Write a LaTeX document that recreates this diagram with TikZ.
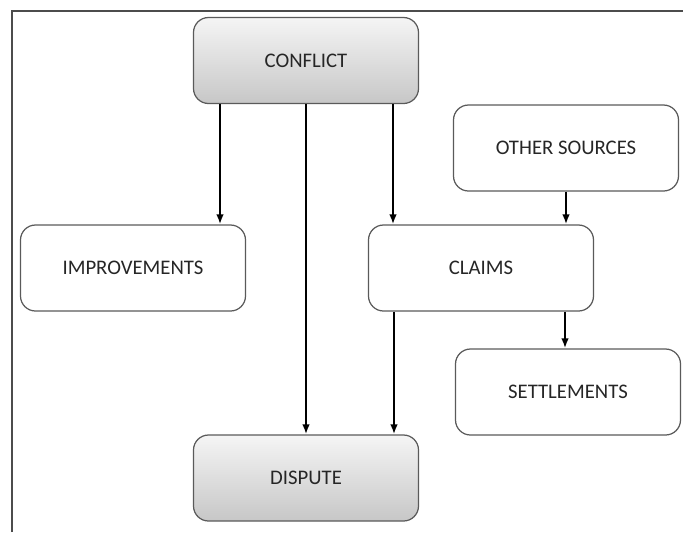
\documentclass[tikz,border=0pt]{standalone}
\usepackage{fontspec}
\setmainfont{Carlito}
\usepackage{xcolor}
\usepackage{tikz}
\usetikzlibrary{positioning, arrows.meta, calc}

\definecolor{boxline}{HTML}{5A5A5A}
\definecolor{boxtext}{HTML}{262626}

\begin{document}
\begin{tikzpicture}[
    roundnode/.style={rectangle, rounded corners=0.3cm, draw=boxline, line width=0.7pt, fill=white, minimum width=4.5cm, minimum height=1.72cm, text=boxtext, font=\fontsize{11.8}{13}\selectfont},
    shadednode/.style={roundnode, top color=black!4, bottom color=black!22},
    arrowline/.style={line width=1.1pt, -{Latex[length=0.2cm, width=0.15cm]}},
]
\useasboundingbox (0,0) rectangle (13.66,-10.64);
\draw[line width=1pt, black!70] (0.24,-10.64) -- (0.24,-0.22) -- (13.66,-0.22);
\node[shadednode](conflict) at (6.12,-1.21){CONFLICT};
\node[roundnode](other) at (11.32,-2.96){OTHER SOURCES};
\node[roundnode](improvements) at (2.66,-5.36){IMPROVEMENTS};
\node[roundnode](claims) at (9.62,-5.36){CLAIMS};
\node[roundnode](settlements) at (11.36,-7.84){SETTLEMENTS};
\node[shadednode](dispute) at (6.12,-9.56){DISPUTE};
\draw[arrowline] ([xshift=-1.72cm]conflict.south) -- ([xshift=-1.72cm]conflict.south |- improvements.north);
\draw[arrowline] (conflict.south) -- (dispute.north);
\draw[arrowline] ([xshift=1.74cm]conflict.south) -- ([xshift=1.74cm]conflict.south |- claims.north);
\draw[arrowline] (other.south) -- (other.south |- claims.north);
\draw[arrowline] ([xshift=-1.74cm]claims.south) -- ([xshift=-1.74cm]claims.south |- dispute.north);
\draw[arrowline] ([xshift=1.68cm]claims.south) -- ([xshift=1.68cm]claims.south |- settlements.north);
\end{tikzpicture}
\end{document}
